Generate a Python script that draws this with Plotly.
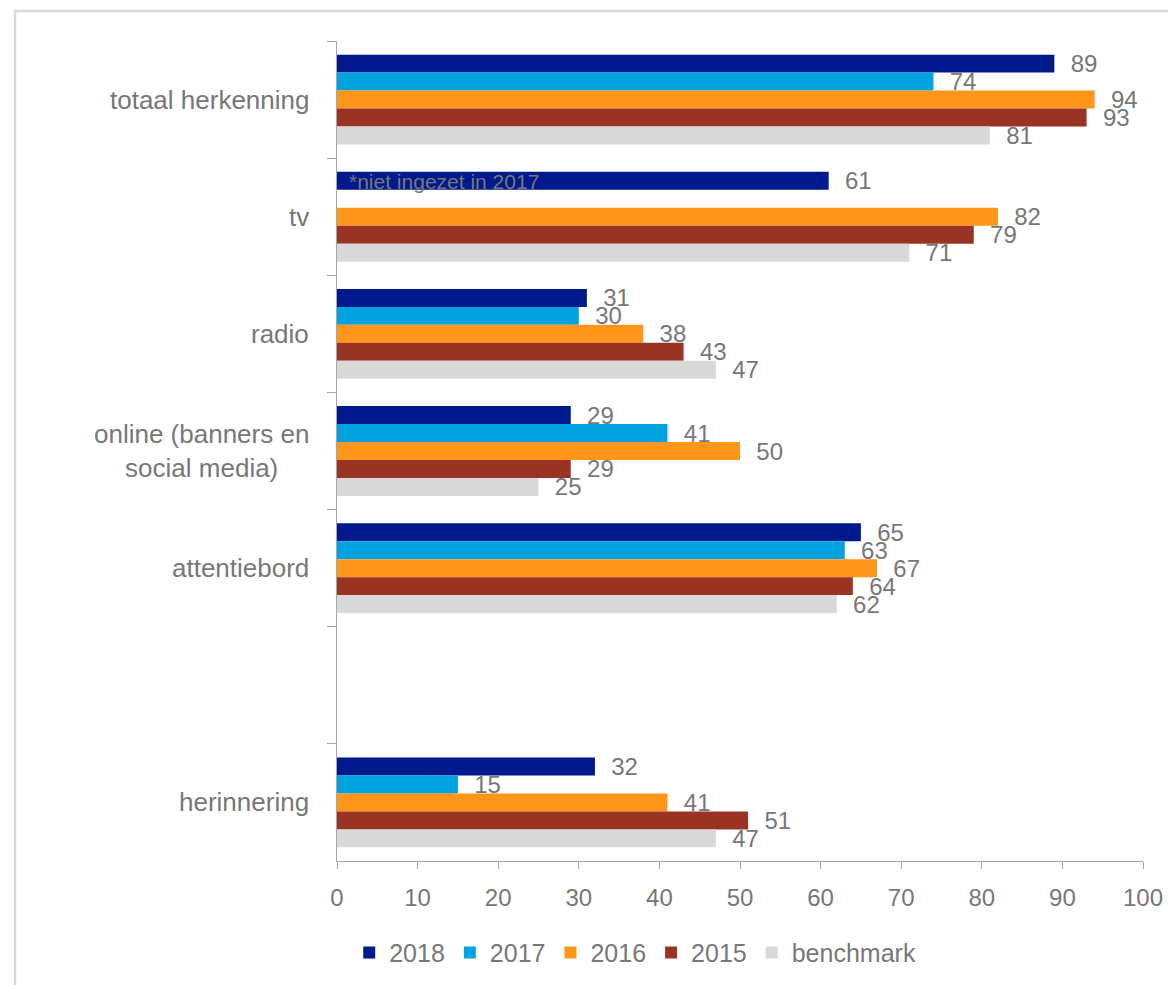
import plotly.graph_objects as go

# Categories (top to bottom); the blank entry leaves an empty slot
categories = ["totaal herkenning", "tv", "radio", "online (banners en social media)",
              "attentiebord", " ", "herinnering"]
category_labels = ["totaal herkenning", "tv", "radio", "online (banners en<br>social media)",
                   "attentiebord", "", "herinnering"]

series_names = ["2018", "2017", "2016", "2015", "benchmark"]
values_2018 = [89, 61, 31, 29, 65, None, 32]
values_2017 = [74, None, 30, 41, 63, None, 15]
values_2016 = [94, 82, 38, 50, 67, None, 41]
values_2015 = [93, 79, 43, 29, 64, None, 51]
values_benchmark = [81, 71, 47, 25, 62, None, 47]

series_values = [values_2018, values_2017, values_2016, values_2015, values_benchmark]
colors = ["#00198C", "#00A3E0", "#FF961C", "#993324", "#D9D9D9"]

x_ticks = list(range(0, 101, 10))

TEXT = "#777777"
FONT = "Liberation Sans, Arial, sans-serif"

fig = go.Figure()
for name, vals, col in zip(series_names, series_values, colors):
    fig.add_trace(go.Bar(
        name=name,
        y=categories,
        x=vals,
        orientation="h",
        marker=dict(color=col, line=dict(width=0)),
        text=[("" if v is None else "\u00a0\u00a0" + str(v)) for v in vals],
        textposition="outside",
        constraintext="none",
        cliponaxis=False,
        textfont=dict(family=FONT, size=24, color=TEXT),
        hoverinfo="x+name",
    ))

# Category labels, centred lines, right-aligned to the axis
annotations = []
for cat, lab in zip(categories, category_labels):
    if lab:
        annotations.append(dict(
            x=-0.032, xref="paper", xanchor="right",
            y=cat, yref="y", yanchor="middle",
            text=lab, showarrow=False, align="center",
            font=dict(family=FONT, size=26, color=TEXT),
        ))

# Note on the tv row
annotations.append(dict(
    x=1.3, xref="x", xanchor="left",
    y="tv", yref="y", yanchor="middle", yshift=35,
    text="*niet ingezet in 2017", showarrow=False,
    font=dict(family=FONT, size=21, color=TEXT),
))

fig.update_layout(
    width=1168, height=985,
    margin=dict(l=337, r=25, t=41, b=124, autoexpand=False),
    paper_bgcolor="white", plot_bgcolor="white",
    barmode="group", bargap=0.233, bargroupgap=0,
    font=dict(family=FONT, size=24, color=TEXT),
    showlegend=True,
    legend=dict(
        orientation="h", x=0.37, xanchor="center", y=-0.112, yanchor="middle",
        font=dict(family=FONT, size=25, color=TEXT),
        itemwidth=30, traceorder="normal",
    ),
    annotations=annotations,
    shapes=[dict(
        type="rect", xref="paper", yref="paper",
        x0=(15 - 337) / 806, x1=(1180 - 337) / 806,
        y0=-(995 - 861) / 820, y1=1 + (41 - 11) / 820,
        line=dict(color="#D9D9D9", width=2.5), fillcolor="rgba(0,0,0,0)",
        layer="below",
    )],
)

fig.update_xaxes(
    range=[0, 100], tickvals=x_ticks, ticktext=[str(t) for t in x_ticks],
    showgrid=False, zeroline=False, automargin=False,
    showline=True, linecolor="#A6A6A6", linewidth=1,
    ticks="outside", ticklen=7, tickcolor="#A6A6A6",
    tickfont=dict(family=FONT, size=24, color=TEXT),
    ticklabelstandoff=8,
)
fig.update_yaxes(
    type="category", categoryorder="array", categoryarray=categories,
    range=[len(categories) - 0.5, -0.5], automargin=False,
    showticklabels=False, showgrid=False, zeroline=False,
    showline=True, linecolor="#A6A6A6", linewidth=1,
    ticks="outside", ticklen=9, tickcolor="#A6A6A6", tickson="boundaries",
)

fig.write_html("out.html")
